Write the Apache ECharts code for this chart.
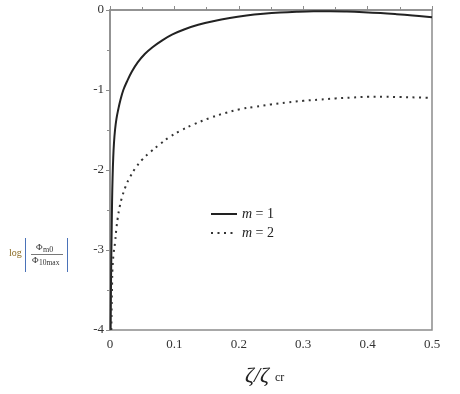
<!DOCTYPE html>
<html>
<head>
<meta charset="utf-8">
<script src="https://cdn.jsdelivr.net/npm/echarts@6/dist/echarts.min.js"></script>
<style>
html, body { margin: 0; padding: 0; background: #fff; }
#chart { width: 460px; height: 394px; }
</style>
</head>
<body>
<div id="chart"></div>
<script>
// zeta / zeta_cr samples and log|phi| for each mode
const zetaM1 = [0.001, 0.0013, 0.0016, 0.002, 0.0026, 0.0032, 0.004, 0.005, 0.0062, 0.0078, 0.01, 0.0129, 0.016, 0.0207, 0.026, 0.034, 0.043, 0.054, 0.066, 0.08, 0.097, 0.116, 0.137, 0.16, 0.186, 0.212, 0.238, 0.264, 0.29, 0.316, 0.342, 0.368, 0.394, 0.42, 0.445, 0.47, 0.5]
const logM1 = [-4.0, -3.7, -3.4, -3.1, -2.75, -2.4, -2.1, -1.85, -1.66, -1.5, -1.36, -1.24, -1.13, -1.0, -0.9, -0.77, -0.655, -0.55, -0.465, -0.385, -0.305, -0.24, -0.185, -0.14, -0.1, -0.07, -0.048, -0.032, -0.022, -0.016, -0.015, -0.019, -0.027, -0.038, -0.052, -0.068, -0.09]

const zetaM2 = [0.002, 0.0024, 0.0028, 0.0033, 0.0038, 0.0055, 0.0078, 0.0098, 0.012, 0.015, 0.018, 0.024, 0.031, 0.04, 0.05, 0.062, 0.077, 0.092, 0.109, 0.13, 0.155, 0.178, 0.202, 0.225, 0.25, 0.275, 0.3, 0.325, 0.35, 0.375, 0.4, 0.425, 0.45, 0.475, 0.5]
const logM2 = [-4.0, -3.8, -3.6, -3.4, -3.24, -3.05, -2.91, -2.74, -2.6, -2.46, -2.36, -2.21, -2.09, -1.97, -1.87, -1.78, -1.68, -1.59, -1.51, -1.43, -1.35, -1.29, -1.24, -1.21, -1.18, -1.155, -1.135, -1.12, -1.105, -1.095, -1.085, -1.085, -1.088, -1.093, -1.1]

const legendNames = ['m = 1', 'm = 2']
const xTicks = [0, 0.1, 0.2, 0.3, 0.4, 0.5]
const yTicks = [-4, -3, -2, -1, 0]

const serif = '"Liberation Serif", "DejaVu Serif", serif'
const axisColor = '#8c8c8c'

const pairs = (xs, ys) => xs.map((x, i) => [x, ys[i]])

const chart = echarts.init(document.getElementById('chart'))

const option = {
	animation: false,
	backgroundColor: '#fff',
	grid: {
		left: 110,
		right: 28,
		top: 10,
		bottom: 64,
		show: true,
		borderColor: axisColor,
		borderWidth: 1.5,
	},
	legend: {
		orient: 'vertical',
		left: 205,
		top: 202,
		itemWidth: 26,
		itemHeight: 10,
		itemGap: 5,
		data: legendNames,
		itemStyle: { opacity: 0 },
		formatter: (name) => '{i|m}{t|' + name.slice(1) + '}',
		textStyle: {
			rich: {
				i: { fontFamily: serif, fontStyle: 'italic', fontSize: 14, color: '#222' },
				t: { fontFamily: serif, fontSize: 14, color: '#222' },
			},
		},
	},
	xAxis: {
		type: 'value',
		min: xTicks[0],
		max: xTicks[xTicks.length - 1],
		interval: 0.1,
		axisLine: { lineStyle: { color: axisColor, width: 1.5 } },
		axisTick: { inside: true, length: 4, lineStyle: { color: axisColor } },
		minorTick: { show: true, splitNumber: 2, length: 3, lineStyle: { color: axisColor } },
		splitLine: { show: false },
		axisLabel: {
			margin: 8,
			fontFamily: serif,
			fontSize: 13,
			color: '#333',
			formatter: (v) => (v === 0 ? '0' : String(+v.toFixed(1))),
		},
	},
	yAxis: {
		type: 'value',
		min: yTicks[0],
		max: yTicks[yTicks.length - 1],
		interval: 1,
		axisLine: { show: true, lineStyle: { color: axisColor, width: 1.5 } },
		axisTick: { show: true, length: 4, lineStyle: { color: axisColor } },
		minorTick: { show: true, splitNumber: 2, length: 3, lineStyle: { color: axisColor } },
		splitLine: { show: false },
		axisLabel: {
			margin: 6,
			fontFamily: serif,
			fontSize: 13,
			color: '#333',
		},
	},
	series: [
		{
			name: legendNames[0],
			type: 'line',
			data: pairs(zetaM1, logM1),
			symbol: 'none',
			smooth: 0.4,
			clip: true,
			lineStyle: { color: '#222', width: 2 },
			itemStyle: { color: '#222' },
		},
		{
			name: legendNames[1],
			type: 'line',
			data: pairs(zetaM2, logM2),
			symbol: 'none',
			smooth: 0.4,
			clip: true,
			lineStyle: { color: '#333', width: 2, type: [2, 4.5] },
			itemStyle: { color: '#333' },
		},
	],
	graphic: [
		// y axis name: log |Phi_m0 / Phi_10max|
		{ type: 'text', left: 9, top: 248, style: { text: 'log', font: '10px ' + serif, fill: '#8a6a22' } },
		{ type: 'line', shape: { x1: 25.5, y1: 238, x2: 25.5, y2: 272 }, style: { stroke: '#4a72b8', lineWidth: 1 } },
		{ type: 'line', shape: { x1: 67.5, y1: 238, x2: 67.5, y2: 272 }, style: { stroke: '#4a72b8', lineWidth: 1 } },
		{ type: 'line', shape: { x1: 31, y1: 254.5, x2: 63, y2: 254.5 }, style: { stroke: '#555', lineWidth: 0.8 } },
		{ type: 'text', left: 36, top: 243, style: { text: 'Φ', font: '9px ' + serif, fill: '#333' } },
		{ type: 'text', left: 43, top: 246, style: { text: 'm0', font: '8px ' + serif, fill: '#333' } },
		{ type: 'text', left: 32, top: 256, style: { text: 'Φ', font: '9px ' + serif, fill: '#333' } },
		{ type: 'text', left: 39, top: 259, style: { text: '10max', font: '7.5px ' + serif, fill: '#333' } },
		// x axis name: zeta / zeta_cr
		{ type: 'text', left: 245, top: 365, style: { text: 'ζ/ζ', font: 'italic 22px ' + serif, fill: '#222' } },
		{ type: 'text', left: 275, top: 372, style: { text: 'cr', font: '12px ' + serif, fill: '#222' } },
	],
}

chart.setOption(option)
</script>
</body>
</html>
